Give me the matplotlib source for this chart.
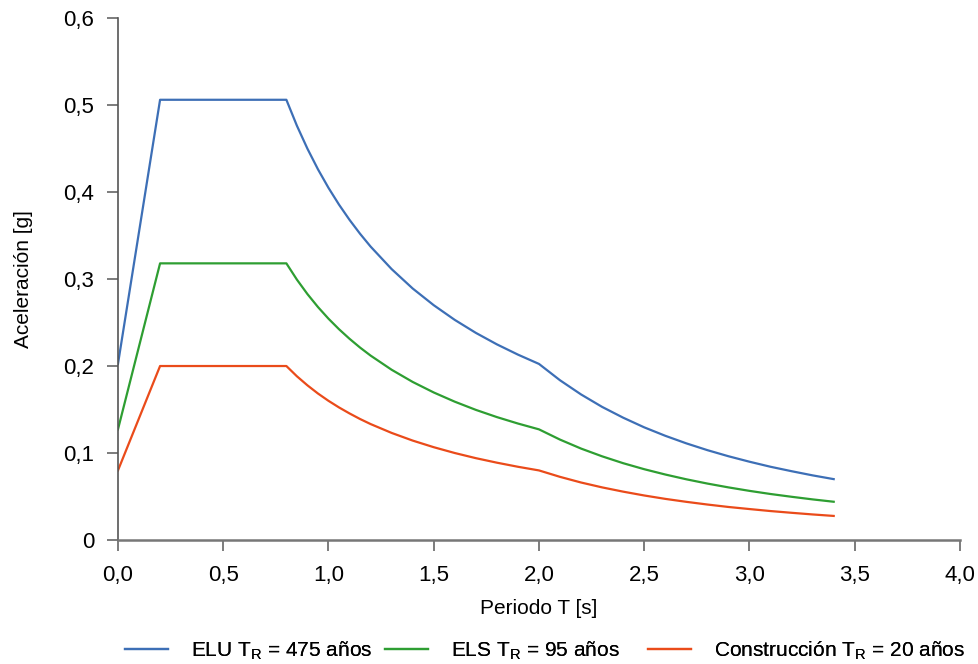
import numpy as np
import matplotlib.pyplot as plt

# periods [s]
T = [0.0, 0.2, 0.8, 0.85, 0.9, 0.95, 1.0, 1.05, 1.1, 1.15, 1.2, 1.3, 1.4, 1.5, 1.6, 1.7,
     1.8, 1.9, 2.0, 2.1, 2.2, 2.3, 2.4, 2.5, 2.6, 2.7, 2.8, 2.9, 3.0, 3.1, 3.2, 3.3, 3.4]

# spectral acceleration [g]
elu = [0.2024, 0.506, 0.506, 0.4762, 0.4498, 0.4261, 0.4048, 0.3855, 0.3680, 0.3520,
       0.3373, 0.3114, 0.2891, 0.2699, 0.2530, 0.2381, 0.2249, 0.2131, 0.2024, 0.1836,
       0.1673, 0.1530, 0.1406, 0.1295, 0.1198, 0.1111, 0.1033, 0.0963, 0.0900, 0.0842,
       0.0791, 0.0743, 0.0700]
els = [0.1272, 0.318, 0.318, 0.2993, 0.2827, 0.2678, 0.2544, 0.2423, 0.2313, 0.2212,
       0.2120, 0.1957, 0.1817, 0.1696, 0.1590, 0.1496, 0.1413, 0.1339, 0.1272, 0.1154,
       0.1051, 0.0962, 0.0883, 0.0814, 0.0753, 0.0698, 0.0649, 0.0605, 0.0565, 0.0529,
       0.0497, 0.0467, 0.0440]
con = [0.0800, 0.200, 0.200, 0.1882, 0.1778, 0.1684, 0.1600, 0.1524, 0.1455, 0.1391,
       0.1333, 0.1231, 0.1143, 0.1067, 0.1000, 0.0941, 0.0889, 0.0842, 0.0800, 0.0726,
       0.0661, 0.0605, 0.0556, 0.0512, 0.0473, 0.0439, 0.0408, 0.0380, 0.0356, 0.0333,
       0.0313, 0.0294, 0.0277]

labels = [r"ELU T$_\mathregular{R}$ = 475 años",
          r"ELS T$_\mathregular{R}$ = 95 años",
          r"Construcción T$_\mathregular{R}$ = 20 años"]
colors = ["#3d6fb6", "#2e9e32", "#ea4b1a"]

xticks = [0.0, 0.5, 1.0, 1.5, 2.0, 2.5, 3.0, 3.5, 4.0]
xticklabels = ["0,0", "0,5", "1,0", "1,5", "2,0", "2,5", "3,0", "3,5", "4,0"]
yticks = [0.0, 0.1, 0.2, 0.3, 0.4, 0.5, 0.6]
yticklabels = ["0", "0,1", "0,2", "0,3", "0,4", "0,5", "0,6"]

plt.rcParams["font.family"] = ["Liberation Sans", "DejaVu Sans"]
plt.rcParams["mathtext.fontset"] = "custom"
plt.rcParams["mathtext.rm"] = "Liberation Sans"

fig = plt.figure(figsize=(9.79, 6.64), dpi=100)
ax = fig.add_axes([0.1205, 0.1867, 0.8601, 0.7862])

lines = []
for y, lab, c in zip([elu, els, con], labels, colors):
    ln, = ax.plot(T, y, color=c, lw=1.6, label=lab)
    lines.append(ln)

ax.set_xlim(0, 4.0)
ax.set_ylim(0, 0.6)
ax.set_xticks(xticks)
ax.set_xticklabels(xticklabels)
ax.set_yticks(yticks)
ax.set_yticklabels(yticklabels)
ax.tick_params(labelsize=16, colors="#666666", labelcolor="black", length=8, width=1.2)
ax.tick_params(axis="y", pad=9)
ax.tick_params(axis="x", pad=10)

for s in ["top", "right"]:
    ax.spines[s].set_visible(False)
ax.spines["left"].set_color("#555555")
ax.spines["bottom"].set_color("#777777")
ax.spines["left"].set_linewidth(1.2)
ax.spines["bottom"].set_linewidth(1.8)

ax.set_xlabel("Periodo T [s]", fontsize=15, labelpad=9)
ax.set_ylabel("Aceleración [g]", fontsize=15, labelpad=22)

# legend entries sit at uneven spacing, like the original
legend_x = [125 / 979, 385 / 979, 648 / 979]
for ln, lx in zip(lines, legend_x):
    leg = fig.legend(handles=[ln], loc="center left", bbox_to_anchor=(lx, 0.0196),
                     frameon=False, fontsize=15, borderpad=0, borderaxespad=0,
                     handlelength=2.06, handletextpad=1.1)
    fig.add_artist(leg)

fig.savefig("out.png", dpi=100)
